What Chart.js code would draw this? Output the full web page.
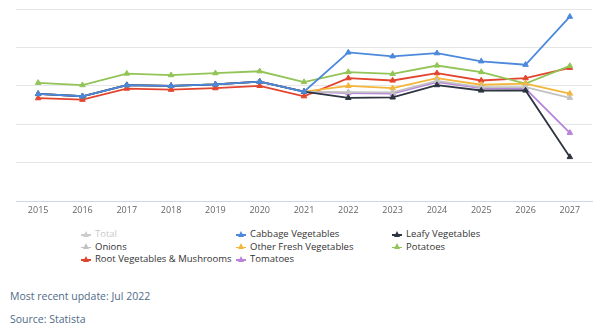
<!DOCTYPE html>
<html lang="en">
<head>
  <meta charset="UTF-8">
  <title>Vegetables volume chart</title>
  <style>
    *{margin:0;padding:0;box-sizing:border-box;}
    body{background:#fff;width:600px;height:331px;overflow:hidden;font-family:"Open Sans","DejaVu Sans",sans-serif;position:relative;}
    #wrap{position:absolute;left:0;top:0;width:600px;height:220px;}
    #legend{position:absolute;left:0;top:228px;width:600px;}
    .item{position:absolute;font-size:9.5px;color:#333;white-space:nowrap;line-height:12px;}
    .item .mk{position:absolute;left:-14px;top:6px;width:10px;height:1.5px;}
    .item .tri{position:absolute;left:-12px;top:2.5px;width:0;height:0;border-left:3px solid transparent;border-right:3px solid transparent;border-bottom:6px solid;}
    .note{position:absolute;left:10px;font-size:10.5px;color:#4f6b87;}
  </style>
  <script src="https://cdn.jsdelivr.net/npm/chart.js@4.4.0/dist/chart.umd.min.js"></script>
</head>
<body>
  <div id="wrap"><canvas id="chart"></canvas></div>
  <div id="legend"></div>
  <div class="note" style="top:289px">Most recent update: Jul 2022</div>
  <div class="note" style="top:312px">Source: Statista</div>
  <script>
    const years = ["2015","2016","2017","2018","2019","2020","2021","2022","2023","2024","2025","2026","2027"];

    const total    = [2.79,2.73,3.02,3.00,3.04,3.11,2.85,2.95,2.92,3.18,3.02,3.02,2.70];
    const cabbage  = [2.79,2.73,3.02,3.00,3.04,3.11,2.85,3.87,3.77,3.85,3.64,3.55,4.80];
    const leafy    = [2.79,2.73,3.02,3.00,3.04,3.11,2.85,2.69,2.70,3.02,2.88,2.88,1.15];
    const onions   = [2.79,2.73,3.02,3.00,3.04,3.11,2.85,2.84,2.83,3.13,2.97,2.97,2.69];
    const other    = [2.79,2.73,3.02,3.00,3.04,3.11,2.85,3.00,2.94,3.20,3.03,3.06,2.80];
    const potatoes = [3.08,3.02,3.32,3.28,3.33,3.38,3.10,3.36,3.31,3.53,3.36,3.06,3.52];
    const root     = [2.68,2.64,2.93,2.90,2.94,3.00,2.73,3.20,3.14,3.33,3.14,3.20,3.47];
    const tomatoes = [2.79,2.73,3.02,3.00,3.04,3.11,2.85,2.81,2.80,3.10,2.94,2.93,1.78];

    const series = [
      {label:"Total", data:total, color:"#c9c9c9", hidden:true},
      {label:"Cabbage Vegetables", data:cabbage, color:"#4c89dc"},
      {label:"Leafy Vegetables", data:leafy, color:"#2d3541"},
      {label:"Onions", data:onions, color:"#c2c2c2"},
      {label:"Other Fresh Vegetables", data:other, color:"#f4b63a"},
      {label:"Potatoes", data:potatoes, color:"#92c457"},
      {label:"Root Vegetables & Mushrooms", data:root, color:"#e2452f"},
      {label:"Tomatoes", data:tomatoes, color:"#b784dc"}
    ];

    const ctx = document.getElementById("chart").getContext("2d");
    const chart = new Chart(ctx, {
      type: "line",
      data: {
        labels: years,
        datasets: series.map(s => ({
          label: s.label,
          data: s.data,
          hidden: !!s.hidden,
          borderColor: s.color,
          backgroundColor: s.color,
          borderWidth: 1.8,
          pointStyle: "triangle",
          pointRadius: 3.2,
          pointBorderWidth: 1,
          tension: 0
        }))
      },
      options: {
        responsive: true,
        maintainAspectRatio: false,
        animation: false,
        layout: { padding: { left: 16, right: 8, top: 9, bottom: 0 } },
        plugins: { legend: { display: false }, tooltip: { enabled: false } },
        scales: {
          x: {
            offset: true,
            grid: { display: false, drawTicks: false },
            border: { color: "#ccd6eb" },
            ticks: { color: "#666", font: { size: 9, family: "'Open Sans', sans-serif" }, padding: 4 }
          },
          y: {
            min: 0, max: 5,
            ticks: { display: false, stepSize: 1 },
            grid: { color: "#e6e6e6", drawTicks: false },
            border: { display: false }
          }
        }
      }
    });

    // 3-column legend like the original
    const colX = [95, 250, 406];
    const rowY = [0, 12.5, 25];
    const legend = document.getElementById("legend");
    series.forEach((s, i) => {
      const el = document.createElement("div");
      el.className = "item";
      el.style.left = colX[i % 3] + "px";
      el.style.top = rowY[Math.floor(i / 3)] + "px";
      if (s.hidden) el.style.color = "#c9c9c9";
      el.innerHTML = `<span class="mk" style="background:${s.hidden ? "#ccc" : s.color}"></span>` +
                     `<span class="tri" style="border-bottom-color:${s.hidden ? "#ccc" : s.color}"></span>` + s.label;
      legend.appendChild(el);
    });
  </script>
</body>
</html>
